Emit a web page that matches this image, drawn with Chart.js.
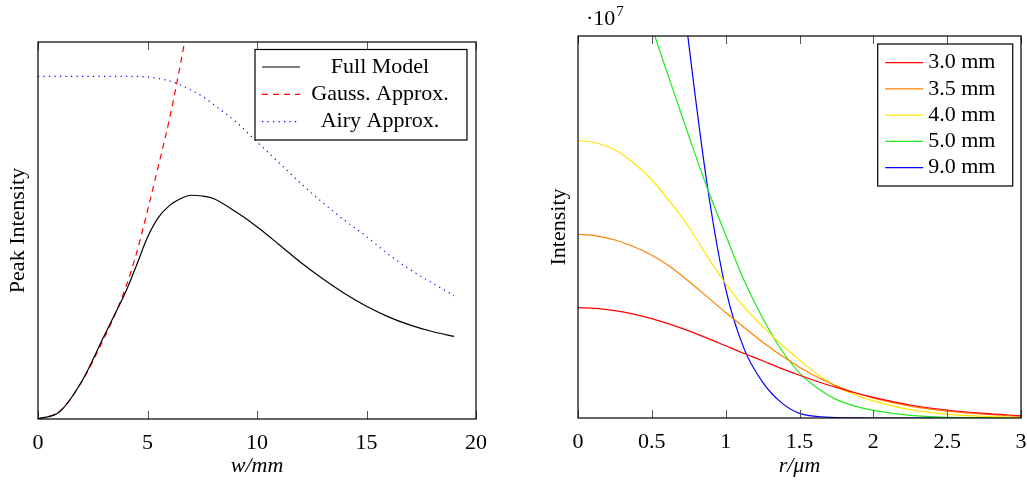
<!DOCTYPE html>
<html>
<head>
<meta charset="utf-8">
<script src="https://cdn.jsdelivr.net/npm/chart.js@4.4.1/dist/chart.umd.min.js"></script>
<style>
  html, body { margin: 0; padding: 0; background: #fff; }
  #wrap { position: relative; width: 1027px; height: 485px; }
  #left { position: absolute; left: 0; top: 0; }
  #right { position: absolute; left: 520px; top: 0; }
</style>
</head>
<body>
<div id="wrap">
  <canvas id="left" width="510" height="485"></canvas>
  <canvas id="right" width="507" height="485"></canvas>
</div>
<script>
// peak intensity against beam width w (mm), arbitrary units
const wFull = [0, 1, 2, 3, 3.5, 4, 4.5, 5, 5.5, 6, 6.5, 7, 7.5, 8, 9, 10, 11, 12, 13, 14, 15, 16, 17, 18, 19];
const peakFull = [0, 0.020, 0.100, 0.218, 0.277, 0.337, 0.408, 0.482, 0.535, 0.566, 0.584, 0.5935, 0.5915, 0.585, 0.551, 0.510, 0.463, 0.415, 0.372, 0.333, 0.299, 0.271, 0.249, 0.232, 0.219];
const wGauss = [0, 1, 2, 3, 3.5, 4, 4.5, 5, 5.5, 6, 6.5, 7];
const peakGauss = [0, 0.021, 0.099, 0.212, 0.275, 0.348, 0.44, 0.553, 0.672, 0.795, 0.94, 1.10];
const wAiry = [0, 1, 2, 3, 4, 5, 5.5, 6, 6.5, 7, 7.5, 8, 9, 10, 11, 12, 13, 14, 15, 16, 17, 18, 19];
const peakAiry = [0.909, 0.909, 0.909, 0.909, 0.909, 0.907, 0.903, 0.897, 0.886, 0.872, 0.856, 0.835, 0.790, 0.735, 0.680, 0.625, 0.574, 0.527, 0.484, 0.437, 0.396, 0.361, 0.327];

// radial intensity profiles (units of 10^7), r in µm
const rPos = [0, 0.125, 0.25, 0.375, 0.5, 0.625, 0.75, 0.875, 1, 1.125, 1.25, 1.375, 1.5, 1.625, 1.75, 1.875, 2, 2.25, 2.5, 2.75, 3];
const prof30 = [0.289, 0.287, 0.281, 0.272, 0.260, 0.245, 0.228, 0.209, 0.189, 0.169, 0.150, 0.130, 0.112, 0.095, 0.080, 0.066, 0.054, 0.034, 0.021, 0.012, 0.006];
const prof35 = [0.481, 0.477, 0.466, 0.449, 0.426, 0.396, 0.358, 0.317, 0.276, 0.237, 0.199, 0.164, 0.133, 0.106, 0.084, 0.066, 0.052, 0.031, 0.018, 0.010, 0.004];
const prof40 = [0.726, 0.720, 0.702, 0.668, 0.623, 0.565, 0.500, 0.423, 0.352, 0.290, 0.240, 0.193, 0.152, 0.113, 0.082, 0.061, 0.045, 0.022, 0.010, 0.004, 0.002];
const prof50 = [1.49, 1.45, 1.34, 1.19, 1.025, 0.88, 0.739, 0.602, 0.479, 0.360, 0.262, 0.180, 0.118, 0.077, 0.048, 0.031, 0.020, 0.007, 0.002, 0.001, 0];
const prof90 = [3.32, 3.25, 2.97, 2.5, 1.95, 1.4, 0.98, 0.61, 0.338, 0.181, 0.094, 0.041, 0.012, 0.004, 0.001, 0.0003, 0, 0, 0, 0, 0];
const profileLabels = ['3.0 mm', '3.5 mm', '4.0 mm', '5.0 mm', '9.0 mm'];
const profileColors = ['#ff0000', '#ff8000', '#ffe600', '#1eea1e', '#0000ff'];

const serif = "'Liberation Serif', 'Times New Roman', serif";
const fontPx = 22;

function pts(xs, ys) {
  return xs.map((x, i) => ({ x: x, y: ys[i] }));
}

// box around the plot, ticks pointing inwards, framed legend, exponent label
const framePlugin = {
  id: 'frame',
  afterDatasetsDraw(chart, args, opts) {
    const ctx = chart.ctx;
    const a = chart.chartArea;
    const xs = chart.scales.x;
    ctx.save();
    ctx.strokeStyle = '#555';
    ctx.lineWidth = 1;
    xs.ticks.forEach(t => {
      const px = Math.round(xs.getPixelForValue(t.value)) + 0.5;
      ctx.beginPath();
      ctx.moveTo(px, a.bottom);
      ctx.lineTo(px, a.bottom - opts.tick);
      ctx.moveTo(px, a.top);
      ctx.lineTo(px, a.top + opts.tick);
      ctx.stroke();
    });
    ctx.strokeStyle = '#000';
    ctx.lineWidth = 1.2;
    ctx.strokeRect(a.left, a.top, a.right - a.left, a.bottom - a.top);

    const lg = opts.legend;
    ctx.fillStyle = '#fff';
    ctx.fillRect(lg.x, lg.y, lg.w, lg.h);
    ctx.strokeStyle = '#000';
    ctx.lineWidth = 1.2;
    ctx.strokeRect(lg.x, lg.y, lg.w, lg.h);
    ctx.font = fontPx + 'px ' + serif;
    ctx.textBaseline = 'middle';
    ctx.textAlign = lg.align;
    chart.data.datasets.forEach((ds, i) => {
      const y = lg.y + lg.first + i * lg.row;
      ctx.strokeStyle = ds.borderColor;
      ctx.lineWidth = ds.borderWidth;
      ctx.setLineDash(ds.borderDash || []);
      ctx.beginPath();
      ctx.moveTo(lg.x + lg.s0, y);
      ctx.lineTo(lg.x + lg.s1, y);
      ctx.stroke();
      ctx.setLineDash([]);
      ctx.fillStyle = '#000';
      ctx.fillText(ds.label, lg.x + lg.tx, y);
    });

    if (opts.exponent) {
      const e = opts.exponent;
      ctx.textAlign = 'left';
      ctx.textBaseline = 'alphabetic';
      ctx.fillStyle = '#000';
      ctx.font = fontPx + 'px ' + serif;
      ctx.fillText('·10', e.x, e.y);
      const w = ctx.measureText('·10').width;
      ctx.font = '15px ' + serif;
      ctx.fillText('7', e.x + w + 1, e.y - 9);
    }
    ctx.restore();
  }
};

function axes(xmin, xmax, step, xTitle, yTitle, yWidth, xHeight, yTitlePad) {
  return {
    x: {
      type: 'linear', min: xmin, max: xmax,
      grid: { display: false }, border: { display: false },
      ticks: { stepSize: step, color: '#000', padding: 5, callback: v => String(v),
               font: { family: serif, size: fontPx, lineHeight: 1 } },
      title: { display: true, text: xTitle, color: '#000', padding: { top: 0, bottom: 8 },
               font: { family: serif, size: fontPx, style: 'italic', lineHeight: 1 } },
      afterFit(s) {
        s.height = xHeight;
        // end labels may hang over the frame, layout padding handles the margins
        s.paddingLeft = 0;
        s.paddingRight = 0;
      }
    },
    y: {
      type: 'linear', min: 0, max: 1,
      grid: { display: false }, border: { display: false },
      ticks: { display: false },
      title: { display: true, text: yTitle, color: '#000', padding: { top: yTitlePad, bottom: 0 },
               font: { family: serif, size: fontPx, lineHeight: 1 } },
      afterFit(s) { s.width = yWidth; }
    }
  };
}

const lineBase = { fill: false, pointRadius: 0, borderWidth: 1.2, cubicInterpolationMode: 'monotone' };

new Chart(document.getElementById('left').getContext('2d'), {
  type: 'line',
  data: {
    datasets: [
      Object.assign({ label: 'Full Model', data: pts(wFull, peakFull), borderColor: '#000' }, lineBase),
      Object.assign({ label: 'Gauss. Approx.', data: pts(wGauss, peakGauss), borderColor: '#ff0000', borderDash: [6, 5] }, lineBase),
      Object.assign({ label: 'Airy Approx.', data: pts(wAiry, peakAiry), borderColor: '#0000ff', borderDash: [1.2, 4.3] }, lineBase)
    ]
  },
  options: {
    responsive: false, animation: false, devicePixelRatio: 1,
    layout: { padding: { top: 42, right: 34, left: 0, bottom: 0 } },
    plugins: {
      legend: { display: false }, tooltip: { enabled: false },
      frame: { tick: 8, legend: { x: 255, y: 49.5, w: 212, h: 90.5, first: 17.5, row: 27.3, s0: 7, s1: 45, tx: 125, align: 'center' } }
    },
    scales: axes(0, 20, 5, 'w/mm', 'Peak Intensity', 38, 66, 7.5)
  },
  plugins: [framePlugin]
});

new Chart(document.getElementById('right').getContext('2d'), {
  type: 'line',
  data: {
    datasets: [prof30, prof35, prof40, prof50, prof90].map((p, i) =>
      Object.assign({ label: profileLabels[i], data: pts(rPos, p), borderColor: profileColors[i] }, lineBase))
  },
  options: {
    responsive: false, animation: false, devicePixelRatio: 1,
    layout: { padding: { top: 36, right: 6, left: 0, bottom: 0 } },
    plugins: {
      legend: { display: false }, tooltip: { enabled: false },
      frame: { tick: 8, exponent: { x: 66, y: 25 },
               legend: { x: 357.7, y: 44, w: 135, h: 142, first: 18.7, row: 26.25, s0: 7.5, s1: 45.5, tx: 50.5, align: 'left' } }
    },
    scales: axes(0, 3, 0.5, 'r/μm', 'Intensity', 58, 67, 28)
  },
  plugins: [framePlugin]
});
</script>
</body>
</html>
